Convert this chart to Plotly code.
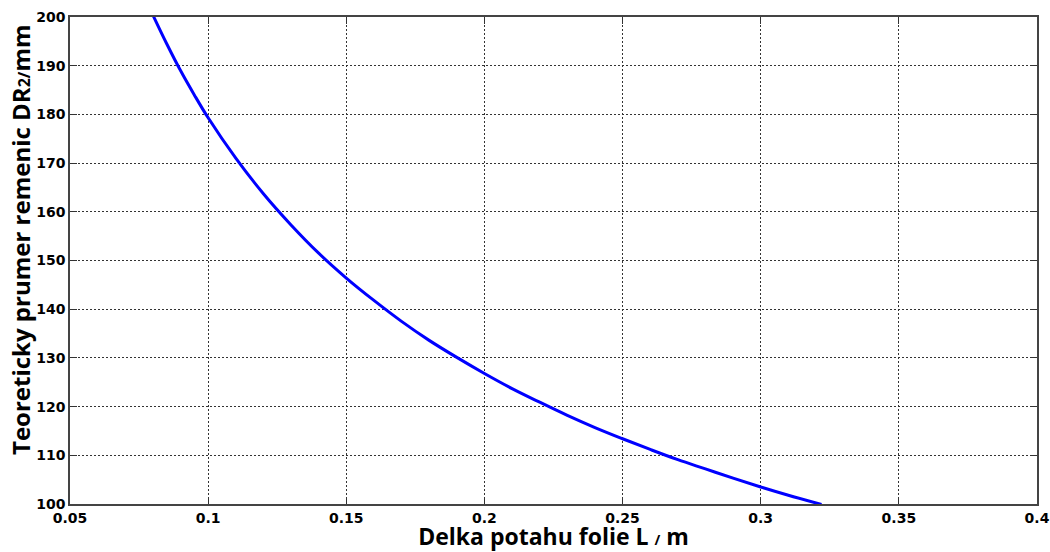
import plotly.graph_objects as go

L_m = [0.08, 0.085, 0.09, 0.095, 0.10, 0.11, 0.12, 0.13, 0.14, 0.15, 0.16, 0.17, 0.18,
       0.19, 0.20, 0.21, 0.22, 0.23, 0.24, 0.25, 0.26, 0.27, 0.28, 0.29, 0.30,
       0.31, 0.322]
DR2_mm = [200.4, 194.5, 189.0, 184.0, 179.3, 171.0, 163.7, 157.3, 151.5, 146.4, 141.8,
          137.5, 133.6, 130.1, 126.8, 123.7, 120.9, 118.2, 115.7, 113.4, 111.2,
          109.1, 107.2, 105.3, 103.5, 101.8, 99.9]

x_ticks = [0.05, 0.1, 0.15, 0.2, 0.25, 0.3, 0.35, 0.4]
x_labels = ["0.05", "0.1", "0.15", "0.2", "0.25", "0.3", "0.35", "0.4"]
y_ticks = [100, 110, 120, 130, 140, 150, 160, 170, 180, 190, 200]

TICK_FONT = "DejaVu Sans"
TITLE_FONT = "Open Sans"

fig = go.Figure()
fig.add_trace(go.Scatter(x=L_m, y=DR2_mm, mode="lines",
                         line=dict(color="#0000ff", width=3, shape="spline"),
                         showlegend=False, hoverinfo="skip"))

axis_common = dict(showgrid=True, gridcolor="#333333", griddash="2px,2px", gridwidth=1,
                   showline=True, linecolor="#444444", linewidth=1.5, mirror="ticks",
                   ticks="inside", ticklen=7, tickcolor="#333333", zeroline=False,
                   automargin=False,
                   tickfont=dict(family=TICK_FONT, size=14, color="black", weight="bold"))

fig.update_xaxes(range=[0.05, 0.4], tickvals=x_ticks, ticktext=x_labels,
                 title=dict(text='Delka potahu folie L <span style="font-size:14px">/</span> m',
                            standoff=10,
                            font=dict(family=TITLE_FONT, size=23, color="black", weight="bold")),
                 **axis_common)
fig.update_yaxes(range=[100, 200], tickvals=y_ticks, **axis_common)

fig.add_annotation(text='Teoreticky prumer remenic DR<span style="font-size:16px">2/</span>mm',
                   xref="paper", yref="paper", x=(21 - 70) / 967, y=(504 - 240) / 487,
                   xanchor="center", yanchor="middle", textangle=-90, showarrow=False,
                   font=dict(family=TITLE_FONT, size=24, color="black", weight="bold"))

fig.update_layout(width=1050, height=552, plot_bgcolor="white", paper_bgcolor="white",
                  margin=dict(l=70, r=13, t=17, b=48))

fig.write_html("out.html", config={"displayModeBar": False},
               post_script="document.body.style.margin='0';document.body.style.overflow='hidden';")
